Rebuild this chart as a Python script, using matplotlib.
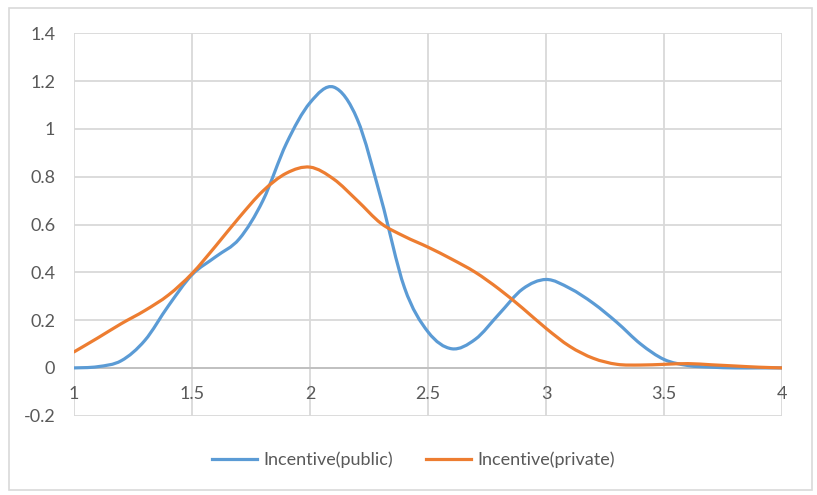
import matplotlib as mpl
import matplotlib.pyplot as plt
from matplotlib.path import Path
from matplotlib.patches import PathPatch, Rectangle
import numpy as np

plt.rcParams['font.family'] = ['Lato', 'DejaVu Sans']

# incentive values sampled every 0.1
x = [1.0, 1.1, 1.2, 1.3, 1.4, 1.5, 1.6, 1.7, 1.8, 1.9, 2.0,
     2.1, 2.2, 2.3, 2.4, 2.5, 2.6, 2.7, 2.8, 2.9, 3.0,
     3.1, 3.2, 3.3, 3.4, 3.5, 3.6, 3.7, 3.8, 3.9, 4.0]
public = [0.0, 0.005, 0.03, 0.115, 0.26, 0.39, 0.465, 0.54, 0.70, 0.94, 1.11,
          1.175, 1.04, 0.71, 0.335, 0.15, 0.08, 0.12, 0.225, 0.33, 0.37,
          0.333, 0.27, 0.19, 0.10, 0.035, 0.01, 0.003, 0.0, 0.0, 0.0]
private = [0.067, 0.125, 0.185, 0.24, 0.305, 0.395, 0.51, 0.63, 0.74, 0.815, 0.84,
           0.79, 0.70, 0.605, 0.55, 0.505, 0.455, 0.40, 0.33, 0.25, 0.165,
           0.09, 0.04, 0.015, 0.012, 0.015, 0.018, 0.013, 0.008, 0.003, 0.0]

xticks = [1, 1.5, 2, 2.5, 3, 3.5, 4]
xticklabels = ['1', '1.5', '2', '2.5', '3', '3.5', '4']
yticks = [-0.2, 0, 0.2, 0.4, 0.6, 0.8, 1.0, 1.2, 1.4]
yticklabels = ['-0.2', '0', '0.2', '0.4', '0.6', '0.8', '1', '1.2', '1.4']

BLUE = '#5B9BD5'
ORANGE = '#ED7D31'
GRID = '#D9D9D9'
TXT = '#595959'
FS = 13


def smooth_path(xs, ys):
    # Catmull-Rom style bezier through the points (like a smoothed line chart)
    p = np.column_stack([xs, ys]).astype(float)
    n = len(p)
    verts = [p[0]]
    codes = [Path.MOVETO]
    for i in range(n - 1):
        p0 = p[i - 1] if i > 0 else p[i]
        p3 = p[i + 2] if i + 2 < n else p[i + 1]
        c1 = p[i] + (p[i + 1] - p0) / 6.0
        c2 = p[i + 1] - (p3 - p[i]) / 6.0
        verts += [c1, c2, p[i + 1]]
        codes += [Path.CURVE4] * 3
    return Path(verts, codes)


fig = plt.figure(figsize=(8.17, 4.95), dpi=100)
ax = fig.add_axes([0.0906, 0.1602, 0.9575 - 0.0906, 0.9327 - 0.1602])

fig.patches.append(Rectangle((0.011, 0.0101), 0.983, 0.974, transform=fig.transFigure,
                             fill=False, edgecolor=GRID, lw=1.2))

ax.set_xlim(1, 4)
ax.set_ylim(-0.2, 1.4)
ax.set_xticks(xticks)
ax.set_yticks(yticks)
ax.set_yticklabels(yticklabels)
ax.set_xticklabels([])
ax.tick_params(length=0, labelsize=FS, labelcolor=TXT, pad=13.5)
for s in ax.spines.values():
    s.set_visible(False)
ax.grid(True, color=GRID, lw=1.3)
ax.set_axisbelow(True)
ax.axhline(0, color='#BFBFBF', lw=1.3, zorder=1)

for xv, lab in zip(xticks, xticklabels):
    ax.text(xv, -0.11, lab, ha='center', va='center', fontsize=FS, color=TXT)

for ys, col, lab in [(public, BLUE, 'Incentive(public)'), (private, ORANGE, 'Incentive(private)')]:
    ax.add_patch(PathPatch(smooth_path(x, ys), fill=False, edgecolor=col, lw=2.3,
                           capstyle='round', joinstyle='round', zorder=3))
    ax.plot([], [], color=col, lw=2.3, label=lab)

fig.legend(loc='center', bbox_to_anchor=(0.506, 0.0707), ncol=2, frameon=False,
           fontsize=FS, labelcolor=TXT, handlelength=2.5, handletextpad=0.35,
           columnspacing=1.8)

fig.savefig('out.png', dpi=100)
